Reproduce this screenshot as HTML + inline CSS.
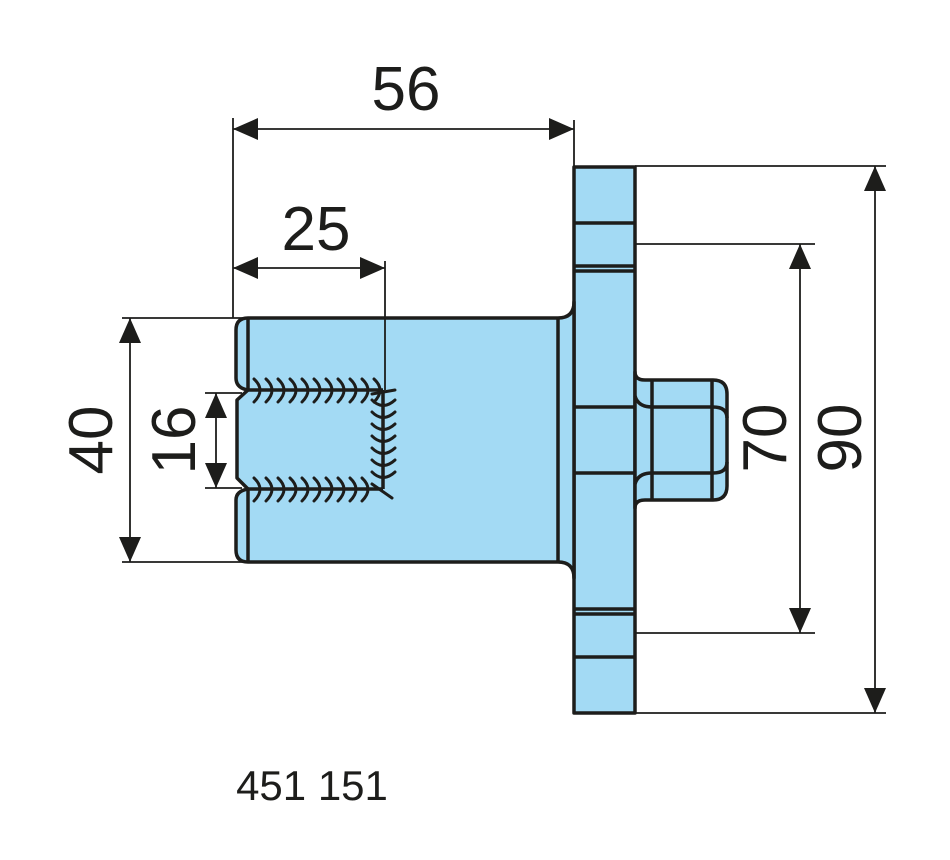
<!DOCTYPE html>
<html><head><meta charset="utf-8"><style>
html,body{margin:0;padding:0;background:#fff;}
svg{display:block;}
text{font-family:"Liberation Sans",sans-serif;fill:#1d1d1b;}
</style></head><body>
<svg width="950" height="860" viewBox="0 0 950 860" xmlns="http://www.w3.org/2000/svg">
<defs>
<marker id="a" markerWidth="26" markerHeight="22" refX="25" refY="11" orient="auto-start-reverse" markerUnits="userSpaceOnUse">
<path d="M0,0 L25,11 L0,22 Z" fill="#1d1d1b"/>
</marker>
</defs>
<g stroke="#1d1d1b" fill="#a3daf4" stroke-width="3.5" stroke-linejoin="round">
<rect x="574" y="167" width="61" height="546"/>
<path d="M635,372 Q635,380 645,380 H713 Q727,380 727,394 V486 Q727,500 713,500 H645 Q635,500 635,508 Z"/>
<path d="M574,302 Q574,318 558,318 H248 Q236,318 236,330 V378 Q236,388 248,390 L237,400 V478 L248,489 Q236,491 236,500 V550 Q236,562 248,562 H558 Q574,562 574,578 Z"/>
</g>
<g stroke="#1d1d1b" stroke-width="3.5" fill="none">
<line x1="248" y1="318" x2="248" y2="390"/>
<line x1="248" y1="489" x2="248" y2="562"/>
<line x1="558" y1="318" x2="558" y2="562"/>
<line x1="574" y1="223" x2="635" y2="223"/>
<line x1="574" y1="266" x2="635" y2="266"/>
<line x1="574" y1="271" x2="635" y2="271"/>
<line x1="574" y1="609" x2="635" y2="609"/>
<line x1="574" y1="614" x2="635" y2="614"/>
<line x1="574" y1="657" x2="635" y2="657"/>
<line x1="574" y1="407" x2="635" y2="407"/>
<line x1="574" y1="473" x2="635" y2="473"/>
<path d="M635,396 Q638,407 652,407 H713 Q727,407 727,418"/>
<path d="M635,484 Q638,473 652,473 H713 Q727,473 727,462"/>
<line x1="652" y1="380" x2="652" y2="500"/>
<line x1="712" y1="380" x2="712" y2="500"/>
<line x1="248" y1="390" x2="383" y2="390"/>
<line x1="248" y1="489" x2="383" y2="489"/>
<line x1="383" y1="390" x2="383" y2="489"/>
</g>
<g stroke="#1d1d1b" stroke-width="3" fill="none" stroke-linecap="round">
<path d="M254,379 Q266,390 254,402 M266,379 Q278,390 266,402 M278,379 Q290,390 278,402 M290,379 Q302,390 290,402 M302,379 Q314,390 302,402 M314,379 Q326,390 314,402 M326,379 Q338,390 326,402 M338,379 Q350,390 338,402 M350,379 Q362,390 350,402 M362,379 Q374,390 362,402 M374,379 Q386,390 374,402"/>
<path d="M254,478 Q266,489 254,501 M266,478 Q278,489 266,501 M278,478 Q290,489 278,501 M290,478 Q302,489 290,501 M302,478 Q314,489 302,501 M314,478 Q326,489 314,501 M326,478 Q338,489 326,501 M338,478 Q350,489 338,501 M350,478 Q362,489 350,501 M362,478 Q374,489 362,501"/>
<path d="M372,400 Q383,411 395,400 M372,412 Q383,423 395,412 M372,424 Q383,435 395,424 M372,436 Q383,447 395,436 M372,448 Q383,459 395,448 M372,460 Q383,471 395,460 M372,472 Q383,483 395,472 M372,394 L395,390 M372,484 L392,498"/>
</g>
<g stroke="#1d1d1b" stroke-width="1.8" fill="none">
<line x1="233" y1="118" x2="233" y2="318"/>
<line x1="574" y1="120" x2="574" y2="167"/>
<line x1="233" y1="129" x2="574" y2="129" marker-start="url(#a)" marker-end="url(#a)"/>
<line x1="385" y1="261" x2="385" y2="390"/>
<line x1="233" y1="268" x2="385" y2="268" marker-start="url(#a)" marker-end="url(#a)"/>
<line x1="122" y1="318" x2="248" y2="318"/>
<line x1="122" y1="562" x2="248" y2="562"/>
<line x1="130" y1="318" x2="130" y2="562" marker-start="url(#a)" marker-end="url(#a)"/>
<line x1="205" y1="393" x2="242" y2="393"/>
<line x1="205" y1="488" x2="242" y2="488"/>
<line x1="216" y1="393" x2="216" y2="488" marker-start="url(#a)" marker-end="url(#a)"/>
<line x1="635" y1="244" x2="815" y2="244"/>
<line x1="635" y1="633" x2="815" y2="633"/>
<line x1="800" y1="244" x2="800" y2="633" marker-start="url(#a)" marker-end="url(#a)"/>
<line x1="635" y1="166" x2="886" y2="166"/>
<line x1="635" y1="713" x2="886" y2="713"/>
<line x1="875" y1="166" x2="875" y2="713" marker-start="url(#a)" marker-end="url(#a)"/>
</g>
<g font-size="62">
<text x="406" y="110" text-anchor="middle">56</text>
<text x="316" y="250" text-anchor="middle">25</text>
<text transform="translate(112,440) rotate(-90)" text-anchor="middle">40</text>
<text transform="translate(195,440) rotate(-90)" text-anchor="middle">16</text>
<text transform="translate(786,438) rotate(-90)" text-anchor="middle">70</text>
<text transform="translate(861,438) rotate(-90)" text-anchor="middle">90</text>
</g>
<text x="312" y="800" font-size="42" text-anchor="middle">451 151</text>
</svg>
</body></html>
